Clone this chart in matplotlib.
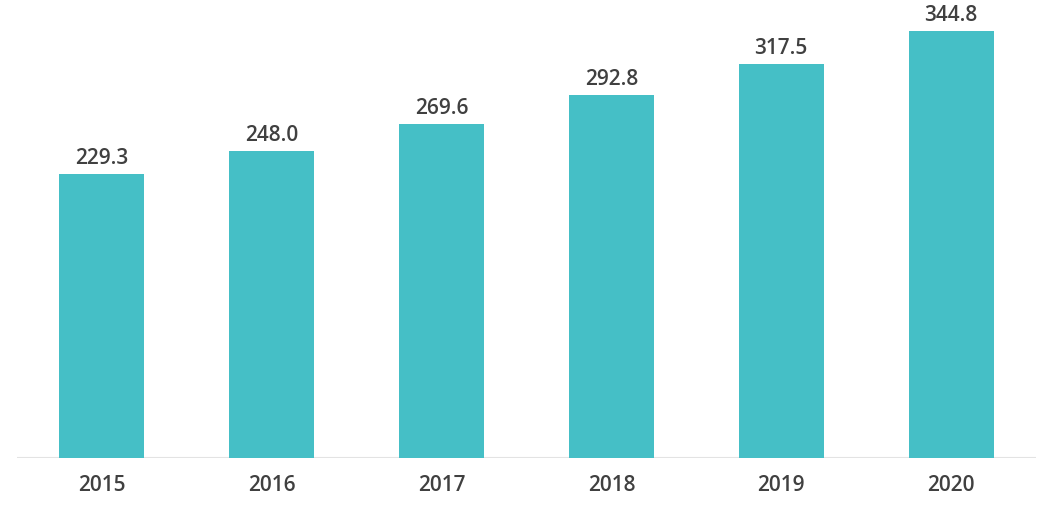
import matplotlib
matplotlib.use("Agg")
import matplotlib.pyplot as plt

years = ["2015", "2016", "2017", "2018", "2019", "2020"]
values = [229.3, 248.0, 269.6, 292.8, 317.5, 344.8]
value_labels = ["229.3", "248.0", "269.6", "292.8", "317.5", "344.8"]

bar_color = "#45BFC6"
text_color = "#404040"
font = dict(family=["Open Sans", "DejaVu Sans"], weight=600, size=15)

fig = plt.figure(figsize=(10.53, 5.19), dpi=100)
ax = fig.add_axes([17/1053, 61/519, (1036-17)/1053, 458/519])

x = list(range(len(years)))
ax.bar(x, values, width=0.5, color=bar_color, zorder=2)
ax.set_xlim(-0.5, len(years) - 0.5)
ax.set_ylim(0, 369.4)

px = 72 / 100  # points per pixel
for xi, v, lab in zip(x, values, value_labels):
    ax.annotate(lab, (xi, v), xytext=(0, 10 * px), textcoords="offset points",
                ha="center", va="baseline", color=text_color, **font)

for xi, yr in zip(x, years):
    ax.annotate(yr, (xi, 0), xytext=(0, -33 * px), textcoords="offset points",
                ha="center", va="baseline", color=text_color, **font)

ax.axhline(0, color="#e3e3e3", linewidth=1.5, zorder=1)
ax.set_xticks([])
ax.set_yticks([])
for s in ax.spines.values():
    s.set_visible(False)

fig.savefig("out.png", dpi=100)
